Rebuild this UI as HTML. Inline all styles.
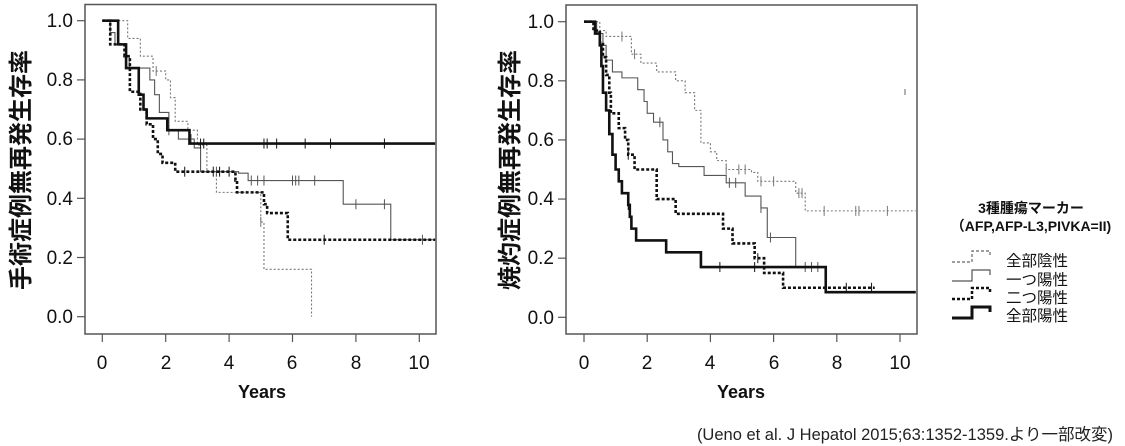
<!DOCTYPE html>
<html><head><meta charset="utf-8"><style>
html,body{margin:0;padding:0;background:#fff;width:1125px;height:446px;overflow:hidden}
svg{display:block}
text{font-family:"Liberation Sans","Noto Sans CJK JP",sans-serif}
</style></head><body>
<svg id="s" width="1125" height="446" xmlns="http://www.w3.org/2000/svg">
<rect x="85" y="4.5" width="351" height="329.5" fill="none" stroke="#555" stroke-width="1.5"/>
<rect x="566" y="5" width="351" height="329" fill="none" stroke="#555" stroke-width="1.5"/>
<g font-size="19" fill="#111" text-anchor="end">
<text x="73" y="27">1.0</text><text x="73" y="86">0.8</text><text x="73" y="145">0.6</text><text x="73" y="205">0.4</text><text x="73" y="264">0.2</text><text x="73" y="323">0.0</text>
<text x="554" y="28">1.0</text><text x="554" y="87">0.8</text><text x="554" y="146">0.6</text><text x="554" y="205">0.4</text><text x="554" y="264">0.2</text><text x="554" y="324">0.0</text>
</g>
<g font-size="19" fill="#111" text-anchor="middle">
<text x="102" y="369">0</text><text x="166" y="369">2</text><text x="229" y="369">4</text><text x="292" y="369">6</text><text x="356" y="369">8</text><text x="419" y="369">10</text>
<text x="584" y="369">0</text><text x="647" y="369">2</text><text x="710" y="369">4</text><text x="774" y="369">6</text><text x="837" y="369">8</text><text x="900" y="369">10</text>
</g>
<g font-size="18" font-weight="bold" fill="#111" text-anchor="middle">
<text x="262" y="398">Years</text><text x="741" y="398">Years</text>
</g>
<text transform="translate(29,170) rotate(-90)" font-size="24" font-weight="bold" fill="#111" text-anchor="middle">手術症例無再発生存率</text>
<text transform="translate(518,170) rotate(-90)" font-size="24" font-weight="bold" fill="#111" text-anchor="middle">焼灼症例無再発生存率</text>
<g font-size="14" fill="#111" font-weight="bold" text-anchor="middle">
<text x="1031" y="213">3種腫瘍マーカー</text>
<text x="1031" y="231">（AFP,AFP-L3,PIVKA=II)</text>
</g>
<g font-size="15.5" fill="#111">
<text x="1006" y="266">全部陰性</text><text x="1006" y="285">一つ陽性</text><text x="1006" y="303">二つ陽性</text><text x="1006" y="321">全部陽性</text>
</g>
<g fill="none">
<path d="M952 262H972V251H990V256" stroke="#666" stroke-width="1.2" stroke-dasharray="3,2"/>
<path d="M952 281H972V270H990V275" stroke="#555" stroke-width="1.2"/>
<path d="M952 299H972V288H990V293" stroke="#111" stroke-width="2.5" stroke-dasharray="3,2"/>
<path d="M952 318H972V307H990V312" stroke="#111" stroke-width="3"/>
</g>
<text x="1113" y="440" font-size="16.5" fill="#222" text-anchor="end">(Ueno et al. J Hepatol 2015;63:1352-1359.より一部改変)</text>
<line x1="905" y1="89" x2="905" y2="95" stroke="#666"/>
<g id="g"></g>
</svg>
<script>
var g=document.getElementById('g'),NS="http://www.w3.org/2000/svg";
function el(t,a){var e=document.createElementNS(NS,t);for(var k in a)e.setAttribute(k,a[k]);g.appendChild(e);return e;}
var ch={L:{x0:102.3,xs:31.7,y0:316.7,ys:296,xmin:85},R:{x0:584,xs:31.6,y0:317.3,ys:295.6,xmin:566}};
var st={a:{s:"#111",w:2.6,d:""},b:{s:"#555",w:1.1,d:""},c:{s:"#777",w:1.1,d:"2,2"},e:{s:"#111",w:2.6,d:"3,2"}};
function km(c,sty,pts,end,cens){
 var C=ch[c],S=st[sty];
 var X=function(t){return C.x0+t*C.xs},Y=function(v){return C.y0-v*C.ys};
 var d="M"+X(0)+" "+Y(1);
 for(var i=0;i<pts.length;i++){d+="H"+X(pts[i][0])+"V"+Y(pts[i][1]);}
 d+="H"+X(end);
 var a={d:d,fill:"none",stroke:S.s,"stroke-width":S.w};if(S.d)a["stroke-dasharray"]=S.d;
 el("path",a);
 (cens||[]).forEach(function(t){var v=1;for(var i=0;i<pts.length;i++)if(pts[i][0]<=t)v=pts[i][1];
  el("line",{x1:X(t),x2:X(t),y1:Y(v)-5,y2:Y(v)+5,stroke:S.s,"stroke-width":1});});
}
km("L","c",[[0.8,0.94],[1.2,0.88],[1.6,0.83],[2.0,0.80],[2.15,0.74],[2.3,0.66],[2.7,0.63],[3.0,0.58],[3.3,0.49],[3.6,0.42],[5.0,0.32],[5.1,0.16],[6.6,0]],6.6,[1.7,5.0]);
km("L","b",[[0.25,0.96],[0.4,0.92],[0.75,0.88],[0.85,0.84],[1.5,0.80],[1.65,0.75],[1.8,0.69],[2.1,0.63],[2.4,0.60],[2.9,0.57],[3.1,0.49],[4.3,0.485],[4.6,0.46],[7.6,0.38],[9.1,0.26]],10.5,[2.1,2.8,3.6,4.7,4.9,5.1,6.0,6.1,6.2,6.7,8.0,8.9,10.1]);
km("L","e",[[0.25,0.92],[0.7,0.88],[0.87,0.76],[1.2,0.70],[1.4,0.65],[1.6,0.60],[1.75,0.55],[1.9,0.52],[2.3,0.49],[4.2,0.46],[4.25,0.42],[5.1,0.38],[5.2,0.35],[5.85,0.26]],10.5,[2.6,3.5,3.7,4.0,7.0]);
km("L","a",[[0.5,0.92],[0.75,0.84],[1.15,0.75],[1.3,0.70],[1.4,0.67],[2.05,0.63],[2.75,0.585]],10.5,[3.1,3.2,5.1,5.2,5.5,6.4,7.2,8.9]);
km("R","c",[[0.5,0.97],[0.7,0.95],[1.5,0.89],[1.8,0.86],[2.3,0.83],[2.9,0.80],[3.2,0.76],[3.5,0.70],[3.7,0.59],[4.0,0.56],[4.2,0.53],[4.5,0.50],[5.3,0.49],[5.5,0.46],[6.7,0.42],[7.0,0.36]],10.5,[1.2,1.6,4.5,4.9,5.1,5.6,6.0,6.8,6.9,7.6,8.6,8.7,9.6]);
km("R","b",[[0.4,0.96],[0.6,0.92],[0.7,0.87],[0.9,0.83],[1.2,0.81],[1.7,0.77],[1.9,0.73],[2.0,0.69],[2.2,0.66],[2.5,0.60],[2.65,0.56],[2.8,0.52],[3.0,0.51],[3.8,0.48],[4.5,0.455],[5.1,0.41],[5.6,0.37],[5.8,0.27],[6.7,0.17]],7.45,[2.4,4.6,4.8,5.6,5.9,7.0,7.2,7.4]);
km("R","e",[[0.3,0.97],[0.5,0.93],[0.6,0.88],[0.7,0.82],[0.8,0.76],[0.85,0.69],[1.1,0.64],[1.3,0.60],[1.4,0.55],[1.6,0.50],[2.3,0.40],[2.9,0.35],[4.4,0.30],[4.7,0.25],[5.4,0.20],[5.7,0.15],[6.3,0.10]],9.2,[1.4,5.5,8.3,9.1]);
km("R","a",[[0.35,0.96],[0.5,0.92],[0.55,0.85],[0.6,0.76],[0.7,0.70],[0.8,0.62],[0.9,0.55],[1.0,0.50],[1.1,0.46],[1.2,0.42],[1.4,0.38],[1.45,0.34],[1.5,0.30],[1.65,0.26],[2.6,0.22],[3.7,0.17],[7.65,0.085]],10.5,[1.4,4.3,5.4]);
[["L",[0,0.2,0.4,0.6,0.8,1]],["R",[0,0.2,0.4,0.6,0.8,1]]].forEach(function(q){var C=ch[q[0]];
 q[1].forEach(function(v){var y=C.y0-v*C.ys;el("line",{x1:C.xmin-8,x2:C.xmin,y1:y,y2:y,stroke:"#555","stroke-width":1.2});});
 for(var t=0;t<=10;t+=2){var x=C.x0+t*C.xs;el("line",{x1:x,x2:x,y1:334,y2:342,stroke:"#555","stroke-width":1.2});}
});
</script>
</body></html>
